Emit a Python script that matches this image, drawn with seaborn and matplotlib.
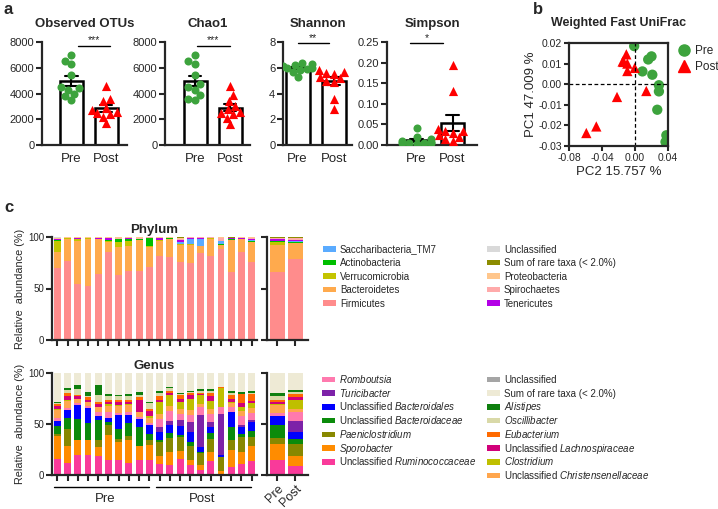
import numpy as np
import pandas as pd
import matplotlib
matplotlib.use("Agg")
import matplotlib.pyplot as plt
import seaborn as sns
from matplotlib.patches import Rectangle
from matplotlib.lines import Line2D

# ---------------- data ----------------
groups = ["Pre", "Post"]

otus_pre = [7000, 6500, 6300, 5400, 4500, 4400, 4300, 4000, 3800, 3500]
otus_post = [4600, 3600, 3400, 2900, 2700, 2600, 2500, 2400, 2200, 1700]
chao1_pre = [7000, 6500, 6300, 5400, 4700, 4500, 4300, 3900, 3600, 3500]
chao1_post = [4600, 3900, 3400, 3000, 2800, 2600, 2500, 2400, 2100, 1600]
shannon_pre = [6.4, 6.3, 6.2, 6.1, 6.0, 6.0, 5.9, 5.8, 5.7, 5.3]
shannon_post = [5.8, 5.7, 5.6, 5.5, 5.3, 5.2, 5.0, 4.9, 3.6, 2.8]
simpson_pre = [0.042, 0.02, 0.015, 0.01, 0.008, 0.006, 0.005, 0.005, 0.004, 0.003]
simpson_post = [0.195, 0.13, 0.04, 0.035, 0.035, 0.03, 0.025, 0.02, 0.015, 0.01]

pc2_pre = [-0.001, 0.016, 0.020, 0.009, 0.021, 0.029, 0.029, 0.027, 0.038, 0.037]
pc1_pre = [0.0185, 0.012, 0.0135, 0.0062, 0.0046, -0.0005, -0.0035, -0.0124, -0.0248, -0.028]
pc2_post = [-0.0105, -0.0137, -0.0093, -0.0093, -0.0004, 0.0137, -0.0218, -0.0469, -0.059, -0.015]
pc1_post = [0.0145, 0.0108, 0.0100, 0.0064, 0.0079, -0.0033, -0.0062, -0.0205, -0.0237, 0.011]

# phylum, bottom -> top, 20 samples (10 Pre, 10 Post)
phylum_names = ["Firmicutes", "Bacteroidetes", "Verrucomicrobia", "Actinobacteria",
                "Saccharibacteria_TM7", "Tenericutes", "Spirochaetes", "Proteobacteria",
                "Sum of rare taxa (< 2.0%)", "Unclassified"]
phylum_colors = ["#FF8C8C", "#FFAA4D", "#C4C400", "#00BF00", "#5AABFF",
                 "#B300E6", "#FFAAAA", "#FFC68C", "#8C8C00", "#D9D9D9"]
firmicutes = [70, 77, 54, 52, 64, 85, 63, 67, 67, 71, 82, 81, 76, 75, 84.5, 82, 88.5, 66.5, 85, 76]
bacteroidetes = [15, 21, 42, 46, 34, 10, 27, 24, 30, 19, 14, 17, 16, 17.5, 6.5, 16, 4, 30.5, 13, 19]
verrucomicrobia = [11, 1, 2, 1, 0.5, 1, 5, 5, 0.5, 1, 1, 0.5, 1, 0.3, 0, 0.7, 0.2, 0.5, 0.3, 0.5]
actinobacteria = [1, 0, 0.3, 0, 0, 1.5, 3, 2, 0.3, 8, 0.3, 0.2, 0.5, 0.2, 0, 0.3, 0.3, 1, 0.2, 0.3]
saccharibacteria = [0, 0, 0, 0, 0, 0, 0, 0, 0, 0, 0, 0, 2, 5.5, 7.5, 0, 3, 0, 0, 1.5]
tenericutes = [1, 0, 0.3, 0.2, 0.3, 1.5, 0.5, 1, 0.3, 0.3, 1.5, 0.3, 1.5, 1, 1, 0.3, 0.5, 0.3, 0.3, 0.7]
spirochaetes = [0.5, 0.3, 0.5, 0.3, 0.5, 0.3, 1, 0.5, 1.2, 0.3, 0.5, 0.5, 1.5, 0.3, 0.3, 0.3, 2.5, 0.3, 0.5, 1]
proteobacteria = [0.5, 0.3, 0.5, 0.3, 0.5, 0.4, 0.3, 0.3, 0.5, 0.2, 0.5, 0.3, 1, 0.1, 0.1, 0.3, 0.8, 0.3, 0.5, 0.7]
phylum_rare = [0.5, 0.2, 0.2, 0.1, 0.1, 0.2, 0.1, 0.1, 0.1, 0.1, 0.1, 0.1, 0.3, 0.05, 0.05, 0.3, 0.1, 0.5, 0.1, 0.2]
phylum_uncl = [0.5, 0.2, 0.2, 0.1, 0.1, 0.1, 0.1, 0.1, 0.1, 0.1, 0.1, 0.1, 0.2, 0.05, 0.05, 0.1, 0.1, 0.1, 0.1, 0.1]
phylum_mean_pre = [66.5, 26, 2.2, 1.7, 0, 1.2, 1.1, 0.8, 0.3, 0.2]
phylum_mean_post = [79, 15, 0.5, 0.3, 1.7, 1, 1.2, 0.8, 0.3, 0.2]

# genus, bottom -> top
genus_names = ["Unclassified Ruminococcaceae", "Sporobacter", "Paeniclostridium",
               "Unclassified Bacteroidaceae", "Unclassified Bacteroidales", "Turicibacter",
               "Romboutsia", "Unclassified Christensenellaceae", "Clostridium",
               "Unclassified Lachnospiraceae", "Eubacterium", "Oscillibacter", "Alistipes",
               "Sum of rare taxa (< 2.0%)", "Unclassified"]
genus_colors = ["#F93A9A", "#FF8C00", "#888800", "#0B8B0B", "#0000FF", "#7D22A8",
                "#FF7AAE", "#FFA64D", "#BFBF00", "#D1007A", "#FF6A00", "#D9D9A8",
                "#0E7F0E", "#EEEAD5", "#A5A5A5"]
rumino = [16, 12, 20, 20, 19, 15, 15, 12, 15, 15, 11, 10, 16, 10, 5, 14, 1, 8, 11, 14]
sporo = [22, 16, 14, 14, 8, 24, 17, 22, 13, 14, 8, 13, 8, 5, 5, 9, 3, 17, 12, 14]
paeni = [2, 17, 0, 0, 7, 10, 3, 4, 0, 5, 13, 13, 13, 13, 12, 12, 14, 9, 14, 9]
bacteroidaceae = [8, 11, 21, 17, 20, 3, 10, 13, 19, 6, 2, 5, 2, 4, 1, 6, 0, 13, 3, 6]
bacteroidales = [5, 8, 14, 15, 4, 4, 14, 8, 8, 9, 8, 8, 9, 10, 4, 6, 2, 15, 7, 9]
turici = [0, 0, 0, 0, 0, 0, 0, 0, 0, 0, 5, 4, 6, 10, 32, 5, 40, 0, 2, 2]
rombou = [3, 2, 2, 2, 4, 6, 2, 3, 2, 2, 8, 10, 6, 7, 8, 8, 7, 5, 9, 7]
christ = [8, 7, 4, 4, 5, 6, 7, 7, 5, 5, 5, 5, 5, 5, 3, 5, 0, 4, 5, 5]
clostr = [1, 1, 0, 0, 0, 2, 1, 1, 0, 2, 12, 10, 7, 11, 8, 8, 18, 1, 4, 5]
lachno = [3, 3, 2, 2, 3, 2, 3, 2, 12, 5, 2, 2, 3, 3, 1, 4, 0, 3, 4, 2]
eubac = [2, 3, 1, 2, 2, 2, 2, 2, 2, 2, 3, 2, 3, 2, 1, 3, 1, 3, 8, 6]
oscill = [1, 3, 6, 1, 6, 3, 3, 3, 2, 6, 3, 3, 1, 1, 2, 2, 0, 2, 0, 1]
alist = [1, 2, 4, 4, 10, 2, 1, 2, 3, 1, 2, 1, 1, 1, 2, 2, 0.5, 2, 2, 2]
genus_rare = [28, 15, 12, 19, 12, 21, 22, 21, 19, 28, 18, 14, 20, 18, 16, 16, 13.5, 18, 19, 18]
genus_uncl = [0] * 20
genus_mean_pre = [15, 15, 6, 13, 9, 0, 3, 8, 1, 2, 2, 3, 3, 20, 0]
genus_mean_post = [9, 10, 11, 5, 7, 11, 9, 3, 9, 2, 3, 2, 2, 17, 0]

phylum_series = [firmicutes, bacteroidetes, verrucomicrobia, actinobacteria, saccharibacteria,
                 tenericutes, spirochaetes, proteobacteria, phylum_rare, phylum_uncl]
genus_series = [rumino, sporo, paeni, bacteroidaceae, bacteroidales, turici, rombou, christ,
                clostr, lachno, eubac, oscill, alist, genus_rare, genus_uncl]

# ---------------- style ----------------
sns.set_style("ticks")
plt.rcParams["font.family"] = ["Liberation Sans", "DejaVu Sans"]
plt.rcParams["mathtext.fontset"] = "custom"
plt.rcParams["mathtext.rm"] = "Liberation Sans"
plt.rcParams["mathtext.it"] = "Liberation Sans:italic"
plt.rcParams["mathtext.bf"] = "Liberation Sans:bold"
plt.rcParams["axes.linewidth"] = 1.6

W, H = 718, 509
fig = plt.figure(figsize=(W / 100, H / 100), dpi=100)


def box(l, t, r, b):
    return fig.add_axes([l / W, 1 - b / H, (r - l) / W, (b - t) / H])


GREEN = "#3DA33D"
RED = "#FF0000"
swarm_fix = []  # (collections, display size)


def alpha_panel(ax, title, pre, post, ylim, yticks, fmt, xlim, sig, sx, sy):
    df = pd.DataFrame({"group": ["Pre"] * len(pre) + ["Post"] * len(post),
                       "value": list(pre) + list(post)})
    sns.barplot(data=df, x="group", y="value", order=groups, errorbar="se", capsize=0.35,
                width=0.66, color="white", edgecolor="black", linewidth=1.8, saturation=1,
                err_kws={"color": "black", "linewidth": 1.5}, ax=ax)
    n0 = len(ax.collections)
    sns.swarmplot(data=df[df.group == "Pre"], x="group", y="value", order=groups,
                  color=GREEN, marker="o", size=5.0, linewidth=0, warn_thresh=1, ax=ax)
    swarm_fix.append((ax.collections[n0:], 5.8))
    n0 = len(ax.collections)
    sns.swarmplot(data=df[df.group == "Post"], x="group", y="value", order=groups,
                  color=RED, marker="^", size=5.2, linewidth=0, warn_thresh=1, ax=ax)
    swarm_fix.append((ax.collections[n0:], 6.6))
    ax.set_ylim(*ylim)
    ax.set_yticks(yticks)
    ax.set_yticklabels([fmt.format(t) for t in yticks])
    ax.set_xlim(*xlim)
    ax.set_xlabel("")
    ax.set_ylabel("")
    ax.set_title(title, fontsize=9.5, fontweight="bold", pad=11)
    ax.tick_params(axis="y", labelsize=8, width=1.5, length=4, pad=1.5)
    ax.tick_params(axis="x", labelsize=9.5, length=0, pad=6)
    sns.despine(ax=ax)
    ax.plot(sx, [sy, sy], color="black", lw=1, clip_on=False)
    ax.text(np.mean(sx), sy + (ylim[1] - ylim[0]) * 0.005, sig, ha="center", va="bottom",
            fontsize=7.5, clip_on=False)


ax1 = box(42, 42, 127, 145)
alpha_panel(ax1, "Observed OTUs", otus_pre, otus_post, (0, 8000), [0, 2000, 4000, 6000, 8000],
            "{:.0f}", (-0.84, 1.59), "***", [0.2, 1.1], 7700)
ax2 = box(165, 42, 250, 145)
alpha_panel(ax2, "Chao1", chao1_pre, chao1_post, (0, 8000), [0, 2000, 4000, 6000, 8000],
            "{:.0f}", (-0.86, 1.57), "***", [0.05, 1.0], 7700)
ax3 = box(283, 42, 352, 145)
alpha_panel(ax3, "Shannon", shannon_pre, shannon_post, (0, 8), [0, 2, 4, 6, 8],
            "{:.0f}", (-0.4, 1.5), "**", [0.0, 0.87], 7.9)
ax4 = box(387, 42, 477, 145)
alpha_panel(ax4, "Simpson", simpson_pre, simpson_post, (0, 0.25),
            [0, 0.05, 0.10, 0.15, 0.20, 0.25], "{:.2f}", (-0.82, 1.68), "*", [-0.18, 0.74], 0.247)

# ---------------- panel b ----------------
axb = box(569, 43, 668, 146)
pc_df = pd.DataFrame({"PC2": pc2_pre + pc2_post, "PC1": pc1_pre + pc1_post,
                      "group": ["Pre"] * len(pc2_pre) + ["Post"] * len(pc2_post)})
sns.scatterplot(data=pc_df, x="PC2", y="PC1", hue="group", style="group",
                hue_order=groups, style_order=groups, palette={"Pre": GREEN, "Post": RED},
                markers={"Pre": "o", "Post": "^"}, s=55, linewidth=0, legend=False, ax=axb)
axb.axhline(0, color="black", lw=0.9, ls=(0, (3, 2)))
axb.axvline(0, color="black", lw=0.9, ls=(0, (3, 2)))
axb.set_xlim(-0.08, 0.04)
axb.set_ylim(-0.03, 0.02)
axb.set_xticks([-0.08, -0.04, 0.00, 0.04])
axb.set_xticklabels(["-0.08", "-0.04", "0.00", "0.04"])
axb.set_yticks([-0.03, -0.02, -0.01, 0.00, 0.01, 0.02])
axb.set_yticklabels(["-0.03", "-0.02", "-0.01", "0.00", "0.01", "0.02"])
axb.tick_params(labelsize=7.5, width=1.5, length=3.5, pad=1.5)
axb.set_xlabel("PC2 15.757 %", fontsize=9.5, labelpad=2)
axb.set_ylabel("PC1 47.009 %", fontsize=9.5, labelpad=1)
axb.set_title("Weighted Fast UniFrac", fontsize=9, fontweight="bold", pad=12)
handles_b = [Line2D([], [], marker="o", color=GREEN, ls="", markersize=8),
             Line2D([], [], marker="^", color=RED, ls="", markersize=8)]
fig.legend(handles_b, groups, loc="upper left", bbox_to_anchor=(678 / W, 1 - 45 / H),
           frameon=False, fontsize=8.5, handlelength=1.0, handletextpad=0.4,
           labelspacing=0.35, borderpad=0, borderaxespad=0)


# ---------------- panel c ----------------
def stacked(ax, series, names, colors, shrink):
    n = len(series[0])
    df = pd.DataFrame({"sample": np.tile(np.arange(n), len(names)),
                       "taxon": np.repeat(names, n),
                       "value": np.concatenate([np.asarray(v, float) for v in series])})
    sns.histplot(data=df, x="sample", weights="value", hue="taxon", hue_order=names[::-1],
                 palette=dict(zip(names, colors)), multiple="stack", discrete=True,
                 shrink=shrink, alpha=1, linewidth=0, edgecolor="none", legend=False, ax=ax)
    ax.set_ylim(0, 100)
    ax.set_yticks([0, 50, 100])
    ax.set_xticks(np.arange(n))
    ax.set_xlabel("")
    ax.set_ylabel("")
    ax.tick_params(axis="both", width=1.5, length=4, labelsize=7, pad=1.5)
    sns.despine(ax=ax)


def transpose(mean_lists):
    return [[m[i] for m in mean_lists] for i in range(len(mean_lists[0]))]


axp = box(52, 237, 257, 340)
stacked(axp, phylum_series, phylum_names, phylum_colors, 0.68)
axp.set_xlim(-0.52, 19.52)
axp.set_xticklabels([])
axp.set_ylabel("Relative  abundance (%)", fontsize=7.8, labelpad=2)
axp.set_title("Phylum", fontsize=9.5, fontweight="bold", pad=3)

axpm = box(267, 237, 308, 340)
stacked(axpm, transpose([phylum_mean_pre, phylum_mean_post]), phylum_names, phylum_colors, 0.83)
axpm.set_xlim(-0.58, 1.7)
axpm.set_xticklabels([])
axpm.set_yticklabels([])

axg = box(52, 373, 257, 475)
stacked(axg, genus_series, genus_names, genus_colors, 0.68)
axg.set_xlim(-0.52, 19.52)
axg.set_xticklabels([])
axg.set_ylabel("Relative  abundance (%)", fontsize=7.8, labelpad=2)
axg.set_title("Genus", fontsize=9.5, fontweight="bold", pad=3)
tr = axg.get_xaxis_transform()
axg.plot([-0.36, 8.95], [-0.115, -0.115], color="black", lw=1, transform=tr, clip_on=False)
axg.plot([9.64, 18.95], [-0.115, -0.115], color="black", lw=1, transform=tr, clip_on=False)
axg.text(4.66, -0.235, "Pre", ha="center", va="center", fontsize=9.5, transform=tr)
axg.text(14.2, -0.235, "Post", ha="center", va="center", fontsize=9.5, transform=tr)

axgm = box(267, 373, 308, 475)
stacked(axgm, transpose([genus_mean_pre, genus_mean_post]), genus_names, genus_colors, 0.83)
axgm.set_xlim(-0.58, 1.7)
axgm.set_yticklabels([])
axgm.set_xticklabels(groups, rotation=45, ha="right", rotation_mode="anchor", fontsize=9)


# ---------------- legends (manual rows) ----------------
def italic_label(name):
    plain = {"Unclassified", "Sum of rare taxa (< 2.0%)"}
    if name in plain:
        return name
    if name.startswith("Unclassified "):
        return "Unclassified $\\it{" + name.split(" ", 1)[1] + "}$"
    return "$\\it{" + name + "}$"


def legend_col(idx, names, colors, x_px, y0_px, step, fmt=lambda s: s):
    for k, i in enumerate(idx):
        yc = y0_px + k * step
        fig.patches.append(Rectangle((x_px / W, 1 - (yc + 2.8) / H), 12.5 / W, 5.6 / H,
                                     facecolor=colors[i], edgecolor="none",
                                     transform=fig.transFigure, figure=fig))
        fig.text((x_px + 17) / W, 1 - (yc + 3.6) / H, fmt(names[i]), fontsize=7,
                 ha="left", va="baseline")


legend_col([4, 3, 2, 1, 0], phylum_names, phylum_colors, 323, 249, 13.5)
legend_col([9, 8, 7, 6, 5], phylum_names, phylum_colors, 487, 249, 13.5)
legend_col([6, 5, 4, 3, 2, 1, 0], genus_names, genus_colors, 322, 379.5, 13.7, italic_label)
legend_col([14, 13, 12, 11, 10, 9, 8, 7], genus_names, genus_colors, 487, 379.5, 13.7,
           italic_label)

# panel letters
for letter, x, y in [("a", 4, 10), ("b", 533, 10), ("c", 4, 208)]:
    fig.text(x / W, 1 - y / H, letter, fontsize=12, fontweight="bold", va="center")

# compute swarm layouts with the layout sizes, then freeze and enlarge markers
fig.canvas.draw()
for cols, disp in swarm_fix:
    for c in cols:
        if "draw" in c.__dict__:
            del c.draw
        c.set_sizes([disp ** 2])

fig.savefig("out.png", dpi=100)
